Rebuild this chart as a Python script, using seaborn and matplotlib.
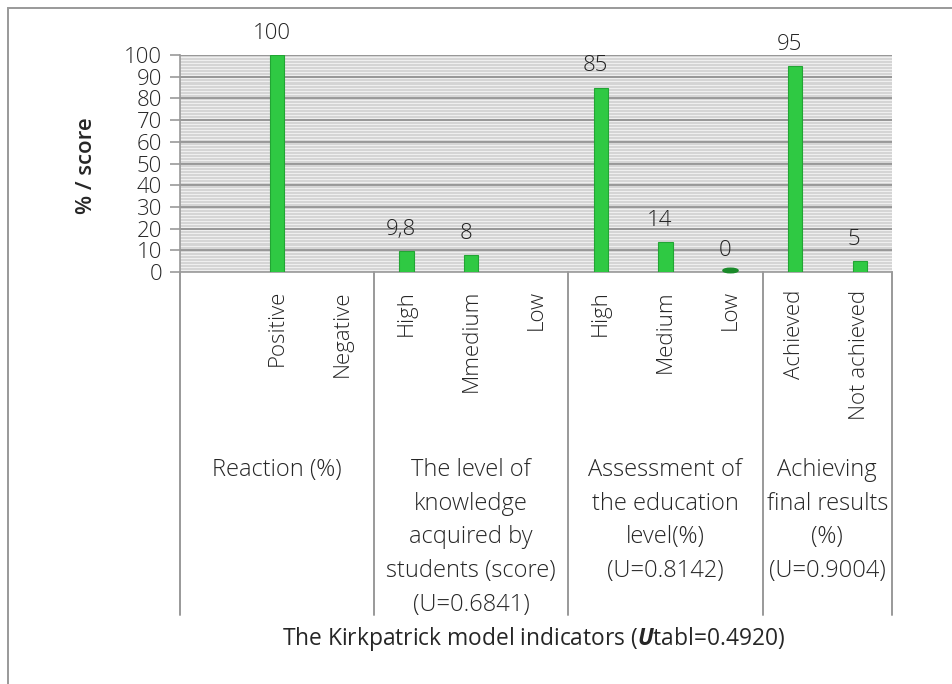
import numpy as np
import pandas as pd
import seaborn as sns
import matplotlib.pyplot as plt
from matplotlib.patches import Rectangle
from matplotlib.path import Path
import matplotlib.transforms as mtransforms

# chart data
slots = ['r0', 'r_pos', 'r_neg', 'k_high', 'k_med', 'k_low',
         'a_high', 'a_med', 'a_low', 'f_ach', 'f_not']
tick_labels = ['', 'Positive', 'Negative', 'High', 'Mmedium', 'Low',
               'High', 'Medium', 'Low', 'Achieved', 'Not achieved']
values = [np.nan, 100, np.nan, 9.8, 8, np.nan, 85, 14, 0, 95, 5]
value_labels = ['', '100', '', '9,8', '8', '', '85', '14', '0', '95', '5']
group_names = ['Reaction (%)',
               'The level of\nknowledge\nacquired by\nstudents (score)\n(U=0.6841)',
               'Assessment of\nthe education\nlevel(%)\n(U=0.8142)',
               'Achieving\nfinal results\n(%)\n(U=0.9004)']
group_sizes = [3, 3, 3, 2]
y_ticks = list(range(0, 101, 10))

sns.set_style('white')
plt.rcParams['font.family'] = ['Open Sans', 'DejaVu Sans']
plt.rcParams['mathtext.fontset'] = 'custom'
plt.rcParams['mathtext.it'] = 'Open Sans:italic'
plt.rcParams['mathtext.bf'] = 'Open Sans:bold'
plt.rcParams['mathtext.bfit'] = 'Open Sans:italic:bold'

fig = plt.figure(figsize=(9.53, 6.84), dpi=100)
ax = fig.add_axes([180 / 953, 1 - 272 / 684, 712 / 953, 217 / 684])

# striped grey back wall
ax.set_facecolor('#d4d4d4')
for y in np.arange(1, 100, 1.4):
    ax.axhline(y, color='#efefef', lw=0.8, zorder=0)
for y in y_ticks[1:]:
    ax.axhline(y, color='#8c8c8c', lw=1.2, zorder=1)

df = pd.DataFrame({'slot': slots, 'value': values})
sns.barplot(data=df, x='slot', y='value', order=slots, color='#2fc943',
            width=0.22, saturation=1, edgecolor='#22a534', linewidth=0.8,
            zorder=3, ax=ax)

# zero values shown as a flat disk
disk = Path.unit_circle().transformed(mtransforms.Affine2D().scale(1, 0.3))
zero_x = [i for i, v in enumerate(values) if v == 0]
ax.scatter(zero_x, [0.8] * len(zero_x), marker=disk, s=120, color='#1a8a2a',
           zorder=4, clip_on=False)

for i, (v, lab) in enumerate(zip(values, value_labels)):
    if lab:
        ax.annotate(lab, (i, v), xytext=(-4, 8), textcoords='offset points',
                    ha='center', va='bottom', fontsize=16, color='#222222',
                    fontweight='light')

ax.set_xlim(-0.5, len(slots) - 0.5)
ax.set_ylim(0, 100)
ax.set_yticks(y_ticks)
ax.set_yticklabels([str(t) for t in y_ticks], fontsize=16, fontweight='light')
ax.tick_params(axis='y', length=7, width=1.2, color='#999999', pad=6,
               direction='out', left=True)
ax.set_xticks(range(len(slots)))
ax.set_xticklabels(tick_labels, rotation=90, fontsize=16, fontweight='light', va='top')
ax.tick_params(axis='x', length=0, pad=13)
ax.set_xlabel('')
ax.set_ylabel('% / score', fontsize=16, fontweight='semibold')
ax.yaxis.set_label_coords(-0.117, 0.49)
for side in ['top', 'right']:
    ax.spines[side].set_visible(False)
for side in ['left', 'bottom']:
    ax.spines[side].set_color('#999999')
    ax.spines[side].set_linewidth(1.2)

# group separators and group names below the ticks
trans = mtransforms.blended_transform_factory(ax.transData, ax.transAxes)
edges = np.concatenate([[0], np.cumsum(group_sizes)]) - 0.5
for e in edges:
    ax.plot([e, e], [0, -1.58], transform=trans, color='#999999', lw=1.4,
            clip_on=False)
for name, a, b in zip(group_names, edges[:-1], edges[1:]):
    ax.text((a + b) / 2, -0.857, name, transform=trans, ha='center', va='top',
            fontsize=17, fontweight='light', linespacing=1.54)

fig.text(534 / 953, 1 - 639 / 684,
         r'The Kirkpatrick model indicators ($\mathbfit{U}$tabl=0.4920)',
         ha='center', va='center', fontsize=16.4)

# outer frame, only top and left edges fall inside the picture
fig.patches.append(Rectangle((8 / 953, -0.05), 1.1, 1.05 - 8 / 684,
                             transform=fig.transFigure, fill=False,
                             edgecolor='#999999', lw=1.4))

fig.savefig('out.png', dpi=100)
